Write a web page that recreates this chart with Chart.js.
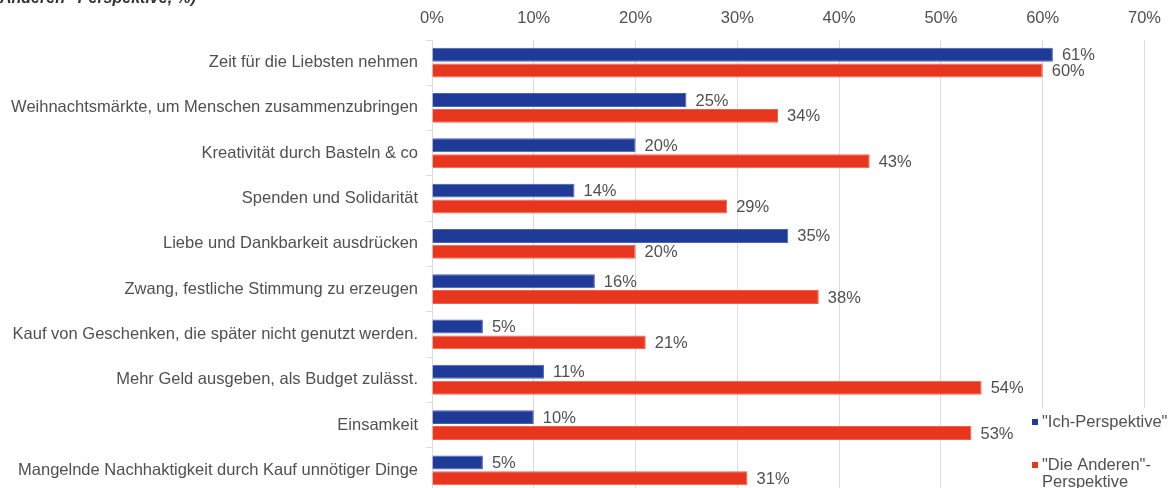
<!DOCTYPE html>
<html>
<head>
<meta charset="utf-8">
<script src="https://cdn.jsdelivr.net/npm/chart.js@4/dist/chart.umd.min.js"></script>
<style>
  html, body { margin: 0; padding: 0; background: #fff; overflow: hidden; }
  #wrap { position: relative; width: 1173px; height: 493px; }
</style>
</head>
<body>
<div id="wrap"><canvas id="chart"></canvas></div>
<script>
const categories = [
  'Zeit für die Liebsten nehmen',
  'Weihnachtsmärkte, um Menschen zusammenzubringen',
  'Kreativität durch Basteln & co',
  'Spenden und Solidarität',
  'Liebe und Dankbarkeit ausdrücken',
  'Zwang, festliche Stimmung zu erzeugen',
  'Kauf von Geschenken, die später nicht genutzt werden.',
  'Mehr Geld ausgeben, als Budget zulässt.',
  'Einsamkeit',
  'Mangelnde Nachhaktigkeit durch Kauf unnötiger Dinge'
]
const ichPerspektive = [61, 25, 20, 14, 35, 16, 5, 11, 10, 5]
const anderePerspektive = [60, 34, 43, 29, 20, 38, 21, 54, 53, 31]
const xTicks = [0, 10, 20, 30, 40, 50, 60, 70]
const seriesNames = [['"Ich-Perspektive"'], ['"Die Anderen"-', 'Perspektive']]
const subtitle = 'Anderen"-Perspektive, %)'

const font = 'Liberation Sans, Arial, sans-serif'
const textColor = '#505050'
const gridColor = '#dcdcdc'

// Prozentwerte rechts neben die Balken schreiben
const valueLabels = {
  id: 'valueLabels',
  afterDatasetsDraw(chart) {
    const ctx = chart.ctx
    ctx.save()
    ctx.font = '16.5px ' + font
    ctx.fillStyle = textColor
    ctx.textAlign = 'left'
    ctx.textBaseline = 'middle'
    chart.data.datasets.forEach((ds, i) => {
      chart.getDatasetMeta(i).data.forEach((bar, j) => {
        ctx.fillText(ds.data[j] + '%', bar.x + 9, bar.y + 1)
      })
    })
    ctx.restore()
  }
}

// abgeschnittene Titelzeile oben links + Legende unten rechts
const extras = {
  id: 'extras',
  afterDraw(chart) {
    const ctx = chart.ctx
    ctx.save()
    ctx.font = 'italic bold 16px ' + font
    ctx.fillStyle = '#333'
    ctx.textBaseline = 'alphabetic'
    ctx.fillText(subtitle, 0, 3)

    ctx.fillStyle = '#fff'
    ctx.fillRect(1026, 408, 147, 90)
    ctx.font = '16.5px ' + font
    ctx.textBaseline = 'middle'
    const ys = [422, 465]
    chart.data.datasets.forEach((ds, i) => {
      ctx.fillStyle = ds.backgroundColor
      ctx.fillRect(1032, ys[i] - 3, 6, 6)
      ctx.fillStyle = textColor
      seriesNames[i].forEach((line, k) => {
        ctx.fillText(line, 1042, ys[i] + k * 17)
      })
    })
    ctx.restore()
  }
}

new Chart(document.querySelector('#chart'), {
  type: 'bar',
  data: {
    labels: categories,
    datasets: [
      {
        label: seriesNames[0].join(' '),
        data: ichPerspektive,
        backgroundColor: '#1f3b97',
        borderColor: '#4862b4',
        borderWidth: 1,
        categoryPercentage: 0.7,
        barPercentage: 0.88
      },
      {
        label: seriesNames[1].join(' '),
        data: anderePerspektive,
        backgroundColor: '#e8351d',
        borderColor: '#f0624d',
        borderWidth: 1,
        categoryPercentage: 0.7,
        barPercentage: 0.88
      }
    ]
  },
  options: {
    indexAxis: 'y',
    responsive: true,
    maintainAspectRatio: false,
    animation: false,
    layout: { padding: { left: 0, right: 26, top: 0, bottom: 0 } },
    plugins: {
      legend: { display: false },
      tooltip: { enabled: false }
    },
    scales: {
      x: {
        position: 'top',
        min: 0,
        max: 70,
        afterBuildTicks: (scale) => { scale.ticks = xTicks.map(v => ({ value: v })) },
        afterFit: (scale) => { scale.height = 40 },
        grid: { color: gridColor, drawTicks: false },
        border: { display: false },
        ticks: {
          color: textColor,
          font: { family: font, size: 16.5 },
          padding: 12,
          callback: (v) => v + '%'
        }
      },
      y: {
        afterFit: (scale) => {
          scale.width = 432
          scale.paddingTop = 0
          scale.paddingBottom = 0
        },
        grid: { color: gridColor, drawOnChartArea: false, tickLength: 6, offset: true },
        border: { color: gridColor },
        ticks: {
          color: textColor,
          font: { family: font, size: 16.5 },
          padding: 8
        }
      }
    }
  },
  plugins: [valueLabels, extras]
})
</script>
</body>
</html>
